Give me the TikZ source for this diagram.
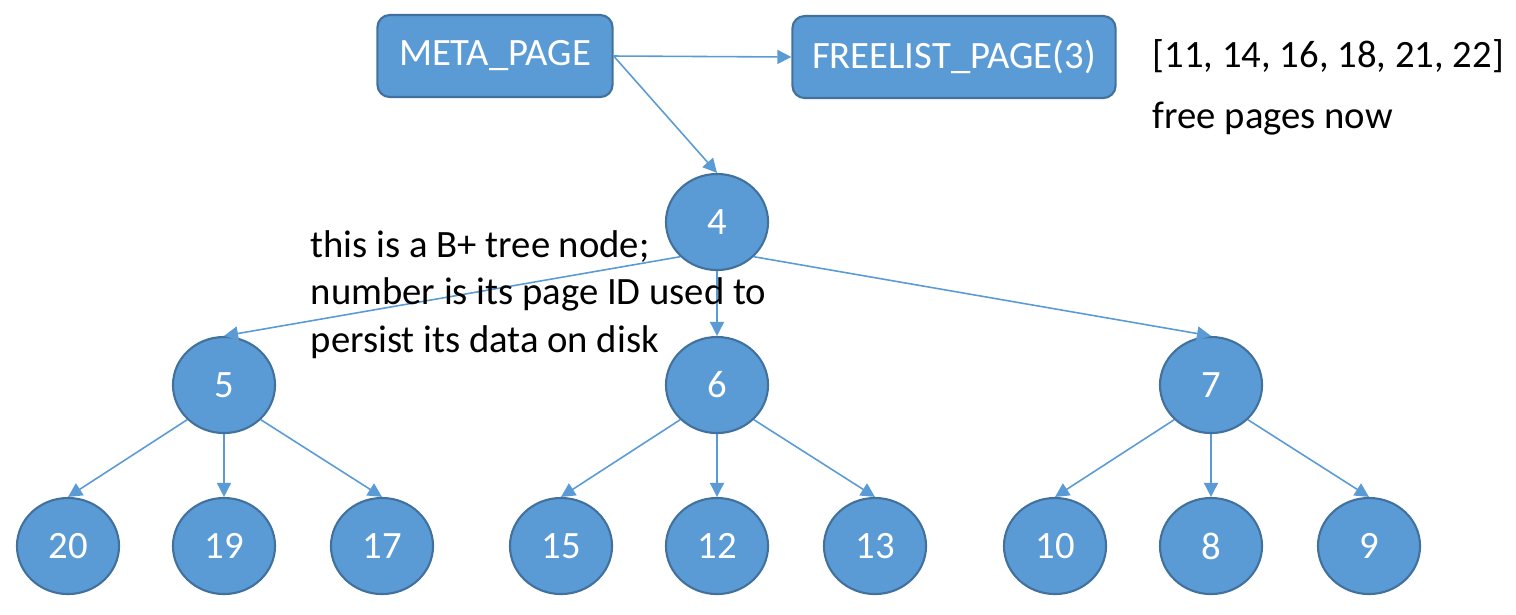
\documentclass[tikz,border=0pt]{standalone}
\usepackage{fontspec}
\setmainfont{Carlito}
\usetikzlibrary{arrows.meta,shapes.geometric}

\definecolor{pagefill}{HTML}{5B9BD5}
\definecolor{pageline}{HTML}{41719C}

\begin{document}
\begin{tikzpicture}[x=0.01cm,y=-0.01cm,
  every node/.style={font=\fontsize{11}{13.4}\selectfont},
  pagebox/.style={draw=pageline,fill=pagefill,line width=0.6pt,rounded corners=3.5pt,
    text=white,minimum height=0.82cm,inner sep=0pt},
  treenode/.style={ellipse,draw=pageline,fill=pagefill,line width=0.6pt,text=white,
    minimum width=1.02cm,minimum height=0.96cm,inner sep=0pt},
  link/.style={draw=pagefill,line width=0.45pt,-{Triangle[length=4pt,width=4pt]}}]
  \useasboundingbox (0,0) rectangle (1516,614);

  % Pages meta / freelist
  \node[pagebox,minimum width=2.35cm] (meta) at (495,56) {META\_PAGE};
  \node[pagebox,minimum width=3.23cm] (freelist) at (954,57) {FREELIST\_PAGE(3)};
  \node[anchor=base west,inner sep=0pt] (freeids) at (1152,67) {[11, 14, 16, 18, 21, 22]};
  \node[anchor=base west,inner sep=0pt] (freenote) at (1152,128) {free pages now};

  % Arbre B+
  \node[treenode] (n4) at (717,222) {4};
  \node[treenode] (n5) at (224,385) {5};
  \node[treenode] (n6) at (717,385) {6};
  \node[treenode] (n7) at (1211,385) {7};
  \node[treenode] (n20) at (68,546) {20};
  \node[treenode] (n19) at (224,546) {19};
  \node[treenode] (n17) at (382,546) {17};
  \node[treenode] (n15) at (561,546) {15};
  \node[treenode] (n12) at (717,546) {12};
  \node[treenode] (n13) at (875,546) {13};
  \node[treenode] (n10) at (1055,546) {10};
  \node[treenode] (n8) at (1211,546) {8};
  \node[treenode] (n9) at (1369,546) {9};

  % Liens
  \draw[link] (meta.east) -- (freelist.west);
  \draw[link] (meta.east) -- (n4.north);
  \draw[link] (n4.south west) -- (n5.north);
  \draw[link] (n4.south) -- (n6.north);
  \draw[link] (n4.south east) -- (n7.north);
  \foreach \p/\a/\b/\c in {n5/n20/n19/n17, n6/n15/n12/n13, n7/n10/n8/n9} {
    \draw[link] (\p.south west) -- (\a.north);
    \draw[link] (\p.south) -- (\b.north);
    \draw[link] (\p.south east) -- (\c.north);
  }

  % Legende
  \node[anchor=base west,inner sep=0pt,align=left] (legend) at (310,352)
    {this is a B+ tree node;\\number is its page ID used to\\persist its data on disk};
\end{tikzpicture}
\end{document}
